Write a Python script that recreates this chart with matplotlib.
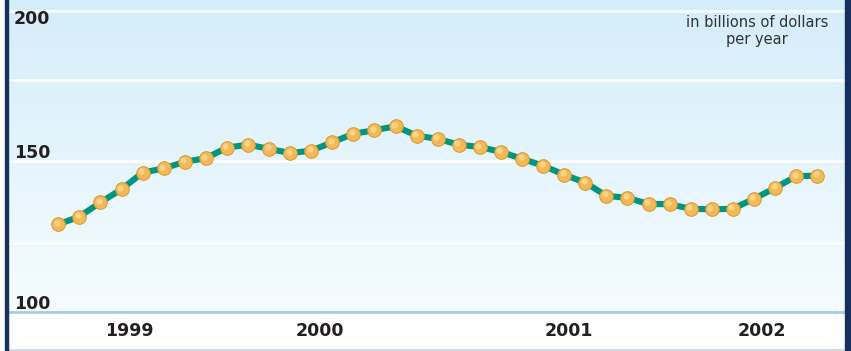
import matplotlib
matplotlib.use("Agg")
import matplotlib.pyplot as plt
import matplotlib.transforms as mtransforms
from matplotlib.patches import Rectangle
from matplotlib.lines import Line2D
import numpy as np

# ---- data ----
values = [129.1, 131.7, 136.4, 140.8, 146.3, 147.7, 149.9, 151.1, 154.6, 155.6,
          154.2, 152.8, 153.6, 156.4, 159.2, 160.4, 161.7, 158.6, 157.5, 155.6,
          154.8, 153.2, 150.9, 148.6, 145.6, 143.0, 138.6, 137.9, 135.9, 135.8,
          134.3, 134.1, 134.3, 137.6, 141.2, 145.1, 145.3]
year_labels = ["1999", "2000", "2001", "2002"]
year_pos = [3.35, 12.4, 24.2, 33.4]
ytick_vals = [100, 150, 200]
grid_vals = [122.9, 150, 177.1, 200]
unit_text = "in billions of dollars\nper year"

W, H = 851, 351
fig = plt.figure(figsize=(W / 100, H / 100), dpi=100)
fig.patch.set_facecolor("white")

# axes placement (pixels)
x0, x1 = 8, 845
ytop, ybot = 0, 312
ax = fig.add_axes([x0 / W, (H - ybot) / H, (x1 - x0) / W, (ybot - ytop) / H])
ax.set_xlim(-2.386, 37.32)
ax.set_ylim(100, 203.65)
for s in ax.spines.values():
    s.set_visible(False)
ax.set_xticks([])
ax.set_yticks([])

# gradient background
grad = np.linspace(0, 1, 256).reshape(-1, 1)
top = np.array([0xd4, 0xed, 0xfa]) / 255
bot = np.array([0xf6, 0xfc, 0xff]) / 255
img = top[None, None, :] * (1 - grad[:, :, None]) + bot[None, None, :] * grad[:, :, None]
ax.imshow(img, extent=[-2.386, 37.32, 100, 203.65], aspect="auto", origin="upper", zorder=0)

for g in grid_vals:
    ax.axhline(g, color="white", lw=1.8, zorder=1)
ax.axhline(100, color="#a3cde2", lw=2.0, zorder=2, clip_on=False)

x = np.arange(len(values))
ax.plot(x, values, color="#00957f", lw=4.4, zorder=3, solid_capstyle="round")
ax.plot(x, values, ls="none", marker="o", ms=9.8, mfc="#f2b956", mec="#d9992e",
        mew=0.7, zorder=4)
hl = mtransforms.offset_copy(ax.transData, fig=fig, x=-1.5, y=1.5, units="dots")
ax.plot(x, values, ls="none", marker="o", ms=4.5, mfc="#fad894", mec="none",
        alpha=0.85, zorder=5, transform=hl)

# y labels
txtc = "#231f20"
for v in ytick_vals:
    dy = -13.5 if v == max(ytick_vals) else 3
    tr = mtransforms.offset_copy(ax.transData, fig=fig, x=0, y=dy, units="dots")
    ax.text(-2.386 + 6 / 21.08, v, str(v), transform=tr, ha="left", va="baseline",
            fontsize=12.5, fontweight="bold", color=txtc, family="DejaVu Sans", zorder=6)

# year labels
btr = mtransforms.blended_transform_factory(ax.transData, fig.transFigure)
for p, lab in zip(year_pos, year_labels):
    ax.text(p, (H - 331) / H, lab, transform=btr, ha="center", va="center",
            fontsize=12.5, fontweight="bold", color=txtc, family="DejaVu Sans",
            clip_on=False)

# unit note
fig.text(757 / W, (H - 15) / H, unit_text, ha="center", va="top", fontsize=10.5,
         color="#333333", family="DejaVu Sans", linespacing=1.15)

# borders
fig.patches.append(Rectangle((5 / W, 0), 3 / W, 1, transform=fig.transFigure,
                             color="#16305e", zorder=10))
fig.patches.append(Rectangle((845 / W, 0), 6 / W, 1, transform=fig.transFigure,
                             color="#16305e", zorder=10))
fig.lines.append(Line2D([8 / W, 845 / W], [1.5 / H, 1.5 / H], transform=fig.transFigure,
                        color="#cdd5dc", lw=1.2))

fig.savefig("out.png", dpi=100)
